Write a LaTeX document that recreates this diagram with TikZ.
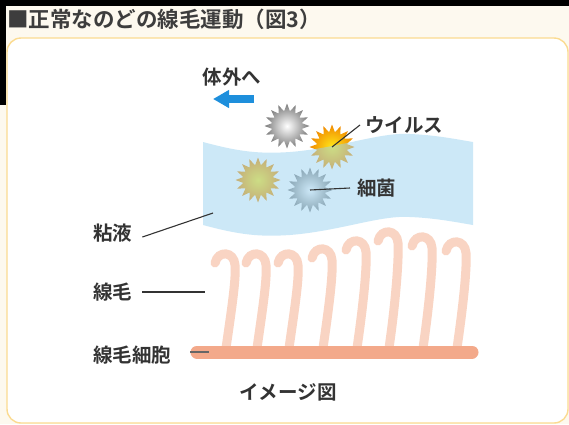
\documentclass[tikz,border=0pt]{standalone}
\usepackage{fontspec}
\setmainfont{Noto Sans CJK JP}[BoldFont={Noto Sans CJK JP Bold}]
\usetikzlibrary{shapes.geometric,arrows.meta}

\definecolor{cream}{HTML}{FDF9EF}
\definecolor{frame}{HTML}{FBDB91}
\definecolor{txt}{HTML}{333333}
\definecolor{mucusblue}{HTML}{9BD3F1}
\definecolor{cilia}{HTML}{F9D4C3}
\definecolor{cellbar}{HTML}{F3A98A}
\definecolor{arrowblue}{HTML}{1E8FDC}
\definecolor{germorange}{HTML}{F18A00}
\definecolor{germyellow}{HTML}{FFE81A}

\tikzset{
  tag/.style={font=\bfseries\fontsize{19.5}{19.5}\selectfont, text=txt, inner sep=0pt},
  leader/.style={draw=txt, line width=1.1pt},
  germ/.style={star, star points=16, star point ratio=1.5, minimum size=45pt, inner sep=0pt, draw=none},
  graygerm/.style={germ, inner color=white, outer color=black!52},
  yellowgerm/.style={germ, inner color=germyellow, outer color=germorange},
  cilium/.style={draw=cilia, line width=9pt, line cap=round},
}

% one hooked cilium: base x, apex y
\newcommand{\hookcilium}[2]{%
  \draw[cilium] (#1,348) .. controls (#1+7,300) and (#1+10,#2+24) .. (#1+9,#2+11)
    .. controls (#1+8,#2-3) and (#1-8,#2-4) .. (#1-11,#2+9);}

\begin{document}
\begin{tikzpicture}[x=1pt,y=-1pt]
\useasboundingbox (0,0) rectangle (569,424);

% page background and dark strips
\fill[cream] (0,0) rectangle (569,424);
\fill[black] (0,0) rectangle (569,6);
\fill[black] (0,0) rectangle (6,105);

% heading
\node[tag, font=\bfseries\fontsize{21.5}{21.5}\selectfont, text=black!76, anchor=west] (title) at (7,19) {■正常なのどの線毛運動（図3）};

% framed panel
\draw[frame, line width=1.4pt, fill=white, rounded corners=14pt] (7,38) rectangle (568,423);

% particles
\node[graygerm] (g1) at (287,126) {};
\node[yellowgerm] (virus) at (332,147) {};
\node[yellowgerm] (g2) at (258,180) {};
\node[graygerm] (bact) at (310,190) {};

% mucus layer
\fill[mucusblue, fill opacity=0.5]
  (203,142) .. controls (240,152) and (260,154) .. (290,152)
  .. controls (340,148) and (380,132) .. (410,134)
  .. controls (435,135) and (455,139) .. (473,142)
  -- (473,225)
  .. controls (455,222) and (435,218) .. (410,217)
  .. controls (380,215) and (340,231) .. (290,235)
  .. controls (260,237) and (240,235) .. (203,225) -- cycle;
\coordinate (mucuspt) at (213,213);

% cilia
\hookcilium{226}{254}
\hookcilium{257}{254}
\hookcilium{289}{254}
\hookcilium{323}{249}
\hookcilium{357}{241}
\hookcilium{389}{232}
\hookcilium{423}{237}
\hookcilium{457}{242}
\coordinate (ciliumpt) at (205,292);

% ciliated cell
\coordinate (cellL) at (197,352);
\coordinate (cellR) at (472,352);
\draw[cellbar, line width=13pt, line cap=round] (cellL) -- (cellR);
\coordinate (cellpt) at (209,352);
\coordinate (cellstart) at (190,352);

% direction arrow
\node[tag] (out) at (232,77) {体外へ};
\coordinate (arrS) at (254,99);
\coordinate (arrE) at (213,99);
\draw[arrowblue, line width=8pt, -{Triangle[length=16pt,width=17pt]}] (arrS) -- (arrE);

% labels
\node[tag, anchor=west] (lvirus) at (365,125) {ウイルス};
\node[tag, anchor=west] (lbact) at (357,188) {細菌};
\node[tag, anchor=west] (lmucus) at (93,233) {粘液};
\node[tag, anchor=west] (lcilium) at (93,292) {線毛};
\node[tag, anchor=west] (lcell) at (93,355) {線毛細胞};
\node[tag] (caption) at (288,392) {イメージ図};

% leader lines
\draw[leader] (virus.center) -- ([xshift=-5pt]lvirus.west);
\draw[leader] (bact.center) -- ([xshift=-7pt]lbact.west);
\draw[leader] ([xshift=10pt,yshift=-4pt]lmucus.east) -- (mucuspt);
\draw[leader] ([xshift=10pt]lcilium.east) -- (ciliumpt);
\draw[leader, draw=black!60] (cellstart) -- (cellpt);
\end{tikzpicture}
\end{document}
